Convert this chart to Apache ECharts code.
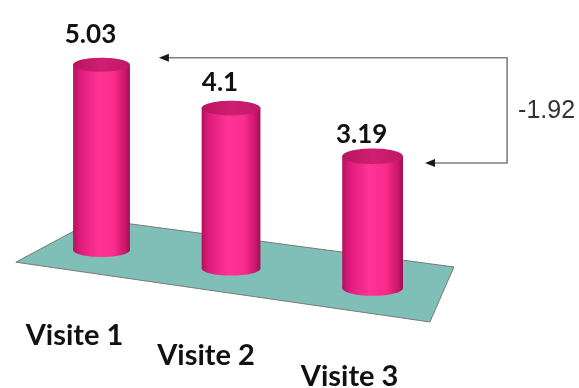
<!DOCTYPE html>
<html><head><meta charset="utf-8">
<script src="https://cdn.jsdelivr.net/npm/echarts@6/dist/echarts.min.js"></script>
<style>html,body{margin:0;padding:0;background:#fff}#c{width:579px;height:388px}</style>
</head><body><div id="c"></div>
<script>
// ---- data ----
const categories = ['Visite 1', 'Visite 2', 'Visite 3'];
const values = [5.03, 4.1, 3.19];
const valueLabels = ['5.03', '4.1', '3.19'];
const changeLabel = '-1.92';
const yMin = 0, yMax = 6;

// ---- layout / style constants (pseudo-3D projection) ----
const TILT = 0.14, PERSP_X = 0.0488, PERSP_H = 0.06, PERSP_W = 0.035, BAR_W = 0.46, RY = 7;
const FLOOR_T0 = -0.377, FLOOR_T1 = 2.461;
const FLOOR_BACK_L = [40, -24.3], FLOOR_FRONT_L = [-40, 18.6];
const FLOOR_BACK_R = [12, -30.7], FLOOR_FRONT_R = [-12, 24.3];

function proj(api, t) {
  const c0 = api.coord([0, 0]);
  const B = api.size([1, 0])[0];
  const x = c0[0] + B * t * (1 + PERSP_X * t);
  const y = c0[1] + TILT * (x - c0[0]);
  return { x: x, y: y };
}
function geom(api, i, v) {
  const c0 = api.coord([0, 0]);
  const B = api.size([1, 0])[0];
  const t = (api.coord([i, 0])[0] - c0[0]) / B;
  const p = proj(api, t);
  const pf = 1 + PERSP_H * t;
  const h = (c0[1] - api.coord([i, v])[1]) * pf;
  return { t: t, x: p.x, yb: p.y, yt: p.y - h, w: B * BAR_W * (1 + PERSP_W * t), ry: RY * pf };
}

const chart = echarts.init(document.getElementById('c'));
chart.setOption({
  animation: false,
  backgroundColor: '#ffffff',
  grid: { left: 39.75, right: 168.75, top: 29, bottom: 138 },
  xAxis: { type: 'category', data: categories, show: false, boundaryGap: true },
  yAxis: { type: 'value', min: yMin, max: yMax, show: false },
  series: [
    {
      type: 'custom', silent: true, z: 1,
      data: [[0, 0]],
      renderItem: function (params, api) {
        const L = proj(api, FLOOR_T0), R = proj(api, FLOOR_T1);
        const pts = [
          [L.x + FLOOR_BACK_L[0], L.y + FLOOR_BACK_L[1]],
          [R.x + FLOOR_BACK_R[0], R.y + FLOOR_BACK_R[1]],
          [R.x + FLOOR_FRONT_R[0], R.y + FLOOR_FRONT_R[1]],
          [L.x + FLOOR_FRONT_L[0], L.y + FLOOR_FRONT_L[1]]
        ];
        return { type: 'polygon', shape: { points: pts },
          style: { fill: '#80BEB8', stroke: '#7a7a7a', lineWidth: 1 } };
      }
    },
    {
      type: 'custom', silent: true, z: 2,
      data: values.map(function (v, i) { return [i, v]; }),
      renderItem: function (params, api) {
        const i = params.dataIndex;
        const g = geom(api, i, values[i]);
        const bodyGrad = new echarts.graphic.LinearGradient(0, 0, 1, 0, [
          { offset: 0, color: '#b0125d' }, { offset: 0.12, color: '#de1b7a' },
          { offset: 0.45, color: '#ff3496' }, { offset: 0.72, color: '#fa2b8d' },
          { offset: 0.92, color: '#c9166c' }, { offset: 1, color: '#9c0e53' }]);
        const topGrad = new echarts.graphic.LinearGradient(0, 0, 1, 0, [
          { offset: 0, color: '#b8135f' }, { offset: 0.5, color: '#cf1f72' }, { offset: 1, color: '#c0186a' }]);
        const gap = 15 - 4.5 * g.t;
        return {
          type: 'group',
          children: [
            { type: 'ellipse', shape: { cx: g.x, cy: g.yb, rx: g.w / 2, ry: g.ry }, style: { fill: bodyGrad } },
            { type: 'rect', shape: { x: g.x - g.w / 2, y: g.yt, width: g.w, height: g.yb - g.yt }, style: { fill: bodyGrad } },
            { type: 'ellipse', shape: { cx: g.x, cy: g.yt, rx: g.w / 2, ry: g.ry }, style: { fill: topGrad } },
            { type: 'text', style: { text: valueLabels[i], x: g.x - 11, y: g.yt - g.ry - gap - 8,
                align: 'center', verticalAlign: 'middle', font: 'bold 26px Lato', fill: '#111111' } },
            { type: 'text', style: { text: categories[i], x: g.x - 27 + 2 * g.t, y: g.yb + 86 + 1.5 * g.t,
                align: 'center', verticalAlign: 'middle', font: 'bold 29px Lato', fill: '#111111' } }
          ]
        };
      }
    },
    {
      type: 'custom', silent: true, z: 3,
      data: [[0, values[0]]],
      renderItem: function (params, api) {
        const a = geom(api, 0, values[0]);
        const b = geom(api, values.length - 1, values[values.length - 1]);
        const yTop = a.yt - a.ry;
        const yBot = b.yt + b.ry * 0.85;
        const xTip1 = a.x + a.w / 2 + 29;
        const xTip2 = b.x + b.w / 2 + 22;
        const xV = b.x + 134.5;
        const ln = { stroke: '#808080', lineWidth: 1.6 };
        const head = function (x, y) {
          return { type: 'polygon', shape: { points: [[x, y], [x + 10, y - 4], [x + 10, y + 4]] }, style: { fill: '#1a1a1a' } };
        };
        return {
          type: 'group',
          children: [
            { type: 'polyline', shape: { points: [[xTip1 + 8, yTop], [xV, yTop], [xV, yBot], [xTip2 + 8, yBot]] }, style: Object.assign({ fill: null }, ln) },
            head(xTip1, yTop), head(xTip2, yBot),
            { type: 'text', style: { text: changeLabel, x: xV + 11, y: (yTop + yBot) / 2 + 1,
                align: 'left', verticalAlign: 'middle', font: '25px "Liberation Sans", Arial, sans-serif', fill: '#333333' } }
          ]
        };
      }
    }
  ]
});
</script>
</body></html>
